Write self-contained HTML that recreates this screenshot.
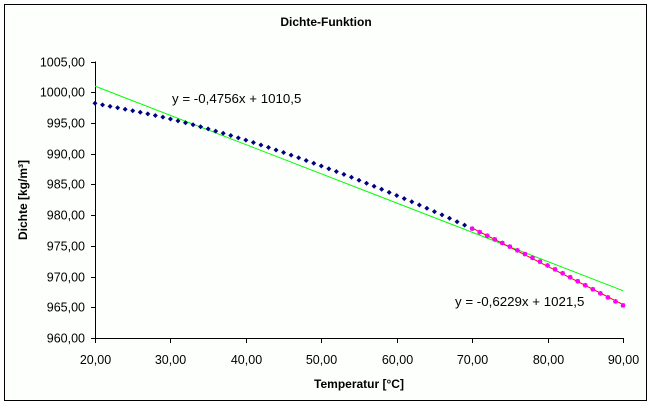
<!DOCTYPE html>
<html><head><meta charset="utf-8"><style>
body{margin:0;background:#fff}
svg{display:block;font-family:"Liberation Sans",Arial,sans-serif}
</style></head><body>
<svg id="s" width="655" height="407" viewBox="0 0 655 407" xmlns="http://www.w3.org/2000/svg">
<rect x="0" y="0" width="655" height="407" fill="#fff"/>
<rect x="4.5" y="4.5" width="642" height="396" fill="#fdfffd" stroke="#000" stroke-width="1"/>
<text x="326" y="26" font-size="12" font-weight="bold" text-anchor="middle">Dichte-Funktion</text>
<text x="359" y="388" font-size="12" font-weight="bold" text-anchor="middle">Temperatur [°C]</text>
<text transform="translate(27,200) rotate(-90)" font-size="12" font-weight="bold" text-anchor="middle">Dichte [kg/m³]</text>
<g id="ax" stroke="#000" stroke-width="1"></g>
<g id="lbl" font-size="12.5" fill="#000"></g>
<g id="dat"></g>
<text x="172" y="103" font-size="13.3">y = -0,4756x + 1010,5</text>
<text x="455" y="306" font-size="13.3">y = -0,6229x + 1021,5</text>
</svg>
<script>
var NS="http://www.w3.org/2000/svg";
function X(t){return 95+(t-20)*528/70}
function Y(d){return 338-(d-960)*276.5/45}
function el(p,n,a){var e=document.createElementNS(NS,n);for(var k in a)e.setAttribute(k,a[k]);p.appendChild(e);return e}
var ax=document.getElementById('ax'),lb=document.getElementById('lbl'),dt=document.getElementById('dat');
el(ax,'line',{x1:95.5,y1:Y(1005),x2:95.5,y2:338.5});
el(ax,'line',{x1:95,y1:338.5,x2:624,y2:338.5});
for(var v=960;v<=1005;v+=5){var y=Math.round(Y(v))+0.5;el(ax,'line',{x1:91,y1:y,x2:96,y2:y});
 var t=el(lb,'text',{x:85,y:y+4,'text-anchor':'end'});t.textContent=v.toFixed(2).replace('.',',');}
for(var v=20;v<=90;v+=10){var x=Math.round(X(v))+0.5;el(ax,'line',{x1:x,y1:338,x2:x,y2:343});
 var t=el(lb,'text',{x:x,y:364,'text-anchor':'middle'});t.textContent=v.toFixed(2).replace('.',',');}
var k=[998.2,995.65,992.2,988.0,983.2,977.8,971.8,965.3];
function D(t){var i=Math.min(6,Math.floor((t-20)/10)),f=(t-20-10*i)/10;
 var p0=k[Math.max(0,i-1)],p1=k[i],p2=k[i+1],p3=k[Math.min(7,i+2)];
 if(i==0)p0=2*p1-p2; if(i==6)p3=2*p2-p1;
 return 0.5*((2*p1)+(-p0+p2)*f+(2*p0-5*p1+4*p2-p3)*f*f+(-p0+3*p1-3*p2+p3)*f*f*f);}
el(dt,'line',{x1:X(20),y1:Y(-0.4756*20+1010.5),x2:X(90),y2:Y(-0.4756*90+1010.5),stroke:'#00ff00','stroke-width':1});
for(var t=20;t<=90;t++){var x=X(t),y=Y(D(t));
 el(dt,'path',{d:'M'+(x-2.5)+' '+y+'L'+x+' '+(y-2.5)+'L'+(x+2.5)+' '+y+'L'+x+' '+(y+2.5)+'Z',fill:'#000080'});}
el(dt,'line',{x1:X(70),y1:Y(-0.6229*70+1021.5),x2:X(90),y2:Y(-0.6229*90+1021.5),stroke:'#ff0000','stroke-width':1});
for(var t=70;t<=90;t++){var x=X(t),y=Y(D(t));el(dt,'rect',{x:x-2,y:y-2,width:4,height:4,fill:'#ff00ff'});}
</script>
</body></html>
